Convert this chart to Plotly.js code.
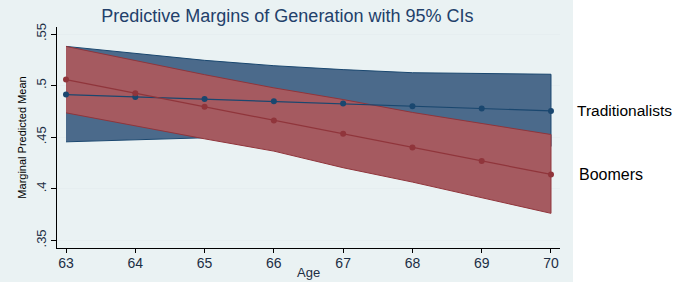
<!DOCTYPE html>
<html>
<head>
<meta charset="utf-8">
<script src="https://cdn.plot.ly/plotly-3.0.1.min.js"></script>
<style>html,body{margin:0;padding:0;background:#fff;}#chart{width:685px;height:284px;}</style>
</head>
<body>
<div id="chart"></div>
<script>
const ages = [63, 64, 65, 66, 67, 68, 69, 70];
const tradMean  = [0.4913, 0.4890, 0.4871, 0.4848, 0.4826, 0.4800, 0.4778, 0.4755];
const tradUpper = [0.5380, 0.5316, 0.5245, 0.5193, 0.5155, 0.5125, 0.5116, 0.5110];
const tradLower = [0.4455, 0.4474, 0.4494, 0.4503, 0.4497, 0.4471, 0.4444, 0.4410];
const boomMean  = [0.5058, 0.4926, 0.4794, 0.4661, 0.4533, 0.4400, 0.4270, 0.4139];
const boomUpper = [0.5380, 0.5242, 0.5106, 0.4978, 0.4865, 0.4740, 0.4635, 0.4526];
const boomLower = [0.4736, 0.4613, 0.4484, 0.4365, 0.4204, 0.4065, 0.3914, 0.3762];
const seriesNames = ["Traditionalists", "Boomers"];
const yTickVals = [0.35, 0.4, 0.45, 0.5, 0.55];
const yTickText = [".35", ".4", ".45", ".5", ".55"];

const blueLine = "#1a476f", blueFill = "#4b6a8b";
const redLine = "#90353b", redFill = "#a55a60";

function band(upper, lower, fill, edge) {
  return {
    x: ages.concat(ages.slice().reverse()),
    y: upper.concat(lower.slice().reverse()),
    type: "scatter", mode: "lines", fill: "toself",
    fillcolor: fill, line: {color: edge, width: 1}, hoverinfo: "skip", showlegend: false
  };
}
function meanLine(y, color) {
  return {
    x: ages, y: y, type: "scatter", mode: "lines+markers",
    line: {color: color, width: 1.2}, marker: {color: color, size: 6},
    showlegend: false, cliponaxis: false
  };
}

const data = [
  band(tradUpper, tradLower, blueFill, blueLine),
  band(boomUpper, boomLower, redFill, redLine),
  meanLine(tradMean, blueLine),
  meanLine(boomMean, redLine)
];

const font = "Liberation Sans, Arial, sans-serif";
const layout = {
  width: 685, height: 284,
  margin: {l: 57, r: 125, t: 27, b: 36, pad: 0},
  paper_bgcolor: "#ffffff", plot_bgcolor: "#ffffff",
  font: {family: font, color: "#000"},
  title: {text: "Predictive Margins of Generation with 95% CIs",
          font: {family: font, size: 18, color: "#22406a"},
          x: 0.458, xanchor: "center", xref: "paper", y: 0.945, yanchor: "middle"},
  xaxis: {
    range: [62.87, 70.13], tickvals: ages, ticktext: ages.map(String),
    ticks: "outside", ticklen: 4, tickwidth: 1, tickcolor: "#000",
    showline: true, linecolor: "#000", linewidth: 1, showgrid: false, zeroline: false,
    ticklabelstandoff: -2,
    tickfont: {family: font, size: 14, color: "#1c2e44"}
  },
  yaxis: {
    range: [0.3426, 0.5568], tickvals: yTickVals, ticktext: yTickText,
    ticks: "outside", ticklen: 5, tickwidth: 1, tickcolor: "#000", tickangle: -90,
    showline: true, linecolor: "#000", linewidth: 1,
    showgrid: true, gridcolor: "#e6eef0", gridwidth: 1, zeroline: false,
    tickfont: {family: font, size: 13, color: "#1c2e44"},
    title: {text: "Marginal Predicted Mean", font: {family: font, size: 11, color: "#000"}, standoff: 4}
  },
  shapes: [{
    type: "rect", xref: "paper", yref: "paper", layer: "below",
    x0: -0.1133, x1: 1.0258, y0: -0.1538, y1: 1.1222,
    fillcolor: "#eaf2f3", line: {width: 0}
  }],
  annotations: [
    {x: 0.5, y: -0.1086, xref: "paper", yref: "paper", text: "Age", showarrow: false,
     xanchor: "center", yanchor: "middle", font: {family: font, size: 13, color: "#1c2e44"}},
    {x: 70, y: tradMean[tradMean.length - 1], xref: "x", yref: "y", text: seriesNames[0],
     showarrow: false, xanchor: "left", xshift: 24, font: {family: font, size: 15.5, color: "#000"}},
    {x: 70, y: boomMean[boomMean.length - 1], xref: "x", yref: "y", text: seriesNames[1],
     showarrow: false, xanchor: "left", xshift: 26, font: {family: font, size: 16, color: "#000"}}
  ]
};

Plotly.newPlot("chart", data, layout, {displayModeBar: false, staticPlot: true});
</script>
</body>
</html>
